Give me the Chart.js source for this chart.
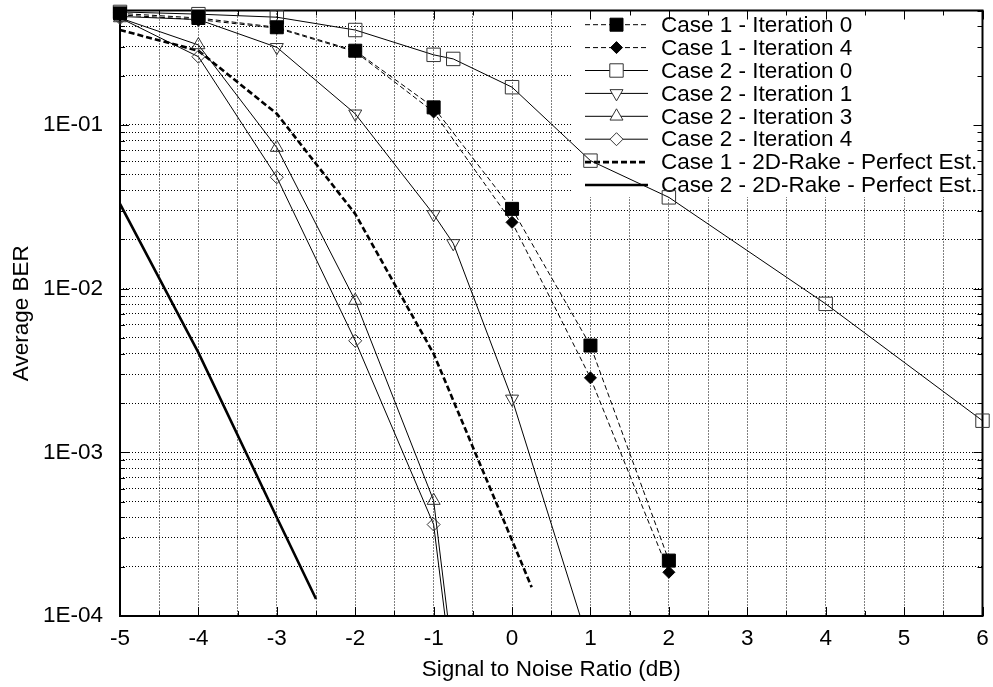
<!DOCTYPE html>
<html>
<head>
<meta charset="utf-8">
<script src="https://cdn.jsdelivr.net/npm/chart.js@4/dist/chart.umd.min.js"></script>
<style>
  html, body { margin: 0; padding: 0; background: #fff; }
  #wrap { width: 993px; height: 687px; }
</style>
</head>
<body>
<div id="wrap"><canvas id="ber" width="993" height="687"></canvas></div>
<script>
// SNR (dB) / BER values
const snrC1 = [-5, -4, -3, -2, -1, 0, 1, 2];
const berC1It0 = [0.48, 0.45, 0.395, 0.284, 0.128, 0.0307, 0.00449, 0.000218];
const berC1It4 = [0.47, 0.44, 0.39, 0.28, 0.12, 0.0254, 0.00285, 0.000185];

const snrC2It0 = [-5, -4, -3, -2, -1, -0.75, 0, 1, 2, 4, 6];
const berC2It0 = [0.49, 0.475, 0.455, 0.38, 0.268, 0.253, 0.17, 0.0605, 0.0361, 0.00807, 0.00156];

const snrC2It1 = [-5, -4, -3, -2, -1, -0.75, 0, 1];
const berC2It1 = [0.46, 0.44, 0.298, 0.117, 0.0284, 0.0189, 0.00212, 0.000063];

const snrC2It34 = [-5, -4, -3, -2, -1, -0.75];
const berC2It3 = [0.45, 0.308, 0.0727, 0.00845, 0.000507, 0.000052];
const berC2It4 = [0.45, 0.261, 0.0479, 0.0048, 0.000362, 0.000039];

const snrRake1 = [-5, -4, -3, -2, -1, 0, 0.25];
const berRake1 = [0.38, 0.284, 0.117, 0.0286, 0.004, 0.00029, 0.00015];

const snrRake2 = [-5, -4, -3, -2.5];
const berRake2 = [0.0329, 0.00406, 0.0004, 0.000127];

const seriesLabels = [
  'Case 1 - Iteration 0',
  'Case 1 - Iteration 4',
  'Case 2 - Iteration 0',
  'Case 2 - Iteration 1',
  'Case 2 - Iteration 3',
  'Case 2 - Iteration 4',
  'Case 1 - 2D-Rake - Perfect Est.',
  'Case 2 - 2D-Rake - Perfect Est.'
];

// y axis: decades get a label, 2..9 only grid lines
const yDecades = [1e-4, 1e-3, 1e-2, 1e-1];
const yMin = 1e-4, yMax = 0.5;
const xMin = -5, xMax = 6;

const FONT = '"Liberation Sans", Arial, Helvetica, sans-serif';
const FS = 22.5;

const pts = (xs, ys) => xs.map((x, i) => ({ x: x, y: ys[i] }));

function series(i, xs, ys, o) {
  return Object.assign({
    label: seriesLabels[i],
    data: pts(xs, ys),
    borderColor: '#000',
    borderWidth: 1,
    backgroundColor: 'rgba(0,0,0,0)',
    pointBorderColor: '#333',
    pointBorderWidth: 1,
    pointBackgroundColor: 'rgba(0,0,0,0)',
    tension: 0,
    clip: { left: 20, top: 20, right: 20, bottom: 0 }
  }, o);
}

const datasets = [
  series(0, snrC1, berC1It0, { borderDash: [5, 3], pointStyle: 'rect', pointRadius: 9.2,
    pointBackgroundColor: '#000', pointBorderColor: '#000', clip: false }),
  series(1, snrC1, berC1It4, { borderDash: [5, 3], pointStyle: 'rectRot', pointRadius: 6,
    pointBackgroundColor: '#000', pointBorderColor: '#000', clip: false }),
  series(2, snrC2It0, berC2It0, { pointStyle: 'rect', pointRadius: 9.5, clip: false }),
  series(3, snrC2It1, berC2It1, { pointStyle: 'triangle', pointRotation: 180, pointRadius: 7.5 }),
  series(4, snrC2It34, berC2It3, { pointStyle: 'triangle', pointRadius: 7.5 }),
  series(5, snrC2It34, berC2It4, { pointStyle: 'rectRot', pointRadius: 6.5 }),
  series(6, snrRake1, berRake1, { borderWidth: 2.6, borderDash: [6, 3], pointRadius: 0 }),
  series(7, snrRake2, berRake2, { borderWidth: 2.6, pointRadius: 0 })
];

function isDecade(v) {
  const l = Math.log10(v);
  return Math.abs(l - Math.round(l)) < 1e-9;
}

// gnuplot-like frame, inward ticks and opaque key box
const framePlugin = {
  id: 'frame',
  beforeDatasetsDraw(chart) {
    const ctx = chart.ctx;
    const a = chart.chartArea;
    const xs = chart.scales.x, ys = chart.scales.y;
    ctx.save();

    // key background
    ctx.fillStyle = '#fff';
    ctx.fillRect(573, a.top, a.right - 573, 197 - a.top);

    // ticks
    ctx.strokeStyle = '#000';
    ctx.lineWidth = 1;
    ctx.beginPath();
    xs.ticks.forEach(t => {
      const px = Math.round(xs.getPixelForValue(t.value)) + 0.5;
      const len = Number.isInteger(t.value) ? 9 : 5;
      ctx.moveTo(px, a.bottom); ctx.lineTo(px, a.bottom - len);
      ctx.moveTo(px, a.top); ctx.lineTo(px, a.top + len);
    });
    ys.ticks.forEach(t => {
      const py = Math.round(ys.getPixelForValue(t.value)) + 0.5;
      const len = isDecade(t.value) ? 9 : 5;
      ctx.moveTo(a.left, py); ctx.lineTo(a.left + len, py);
      ctx.moveTo(a.right, py); ctx.lineTo(a.right - len, py);
    });
    ctx.stroke();

    // border box
    ctx.lineWidth = 2;
    ctx.strokeRect(a.left, a.top, a.right - a.left, a.bottom - a.top);

    // key entries
    const rowY0 = 24.7, rowDy = 22.9;
    ctx.font = FS + 'px ' + FONT;
    ctx.textBaseline = 'middle';
    ctx.textAlign = 'left';
    chart.data.datasets.forEach((ds, i) => {
      const y = rowY0 + i * rowDy;
      ctx.save();
      ctx.strokeStyle = ds.borderColor;
      ctx.lineWidth = ds.borderWidth;
      ctx.setLineDash(ds.borderDash || []);
      ctx.beginPath();
      ctx.moveTo(585, y); ctx.lineTo(648, y);
      ctx.stroke();
      ctx.restore();
      if (ds.pointRadius > 0 && Chart.helpers && Chart.helpers.drawPoint) {
        ctx.save();
        ctx.fillStyle = ds.pointBackgroundColor === 'rgba(0,0,0,0)' ? '#fff' : ds.pointBackgroundColor;
        ctx.strokeStyle = ds.pointBorderColor;
        ctx.lineWidth = 1;
        Chart.helpers.drawPoint(ctx, {
          pointStyle: ds.pointStyle, radius: ds.pointRadius,
          rotation: ds.pointRotation || 0, borderWidth: 1
        }, 616.5, y);
        ctx.restore();
      }
      ctx.fillStyle = '#000';
      ctx.fillText(ds.label, 661, y + 1);
    });
    ctx.restore();
  }
};

new Chart(document.getElementById('ber'), {
  type: 'line',
  data: { datasets: datasets },
  plugins: [framePlugin],
  options: {
    responsive: false,
    devicePixelRatio: 1,
    animation: false,
    layout: { padding: { left: 0, top: 10, right: 6, bottom: 0 } },
    plugins: { legend: { display: false }, tooltip: { enabled: false } },
    scales: {
      x: {
        type: 'linear',
        min: xMin, max: xMax,
        grid: { color: '#000', lineWidth: 1, drawTicks: false },
        border: { display: false, dash: [1, 2] },
        ticks: {
          stepSize: 0.5, autoSkip: false, maxRotation: 0, padding: 9.5,
          color: '#000', font: { family: FONT, size: FS },
          callback: v => Number.isInteger(v) ? String(v) : ''
        },
        title: {
          display: true, text: 'Signal to Noise Ratio (dB)', color: '#000',
          font: { family: FONT, size: FS }, padding: { top: 0, bottom: 3.5 }
        },
        afterFit(scale) {
          scale.height = 71;
          scale.paddingLeft = 0; scale.paddingRight = 0;
        }
      },
      y: {
        type: 'logarithmic',
        min: yMin, max: yMax,
        grid: { color: '#000', lineWidth: 1, drawTicks: false },
        border: { display: false, dash: [1, 2] },
        afterBuildTicks(scale) {
          const ticks = [];
          yDecades.forEach(d => {
            for (let m = 1; m <= 9; m++) {
              const v = +(m * d).toPrecision(6);
              if (v <= yMax + 1e-12) ticks.push({ value: v });
            }
          });
          scale.ticks = ticks;
        },
        ticks: {
          autoSkip: false, padding: 17,
          color: '#000', font: { family: FONT, size: FS },
          callback: v => isDecade(v) ? '1E-' + String(-Math.round(Math.log10(v))).padStart(2, '0') : ''
        },
        title: {
          display: true, text: 'Average BER', color: '#000',
          font: { family: FONT, size: FS }, padding: { top: 8.5, bottom: 0 }
        },
        afterFit(scale) {
          scale.width = 120;
          scale.paddingTop = 0; scale.paddingBottom = 0;
        }
      }
    }
  }
});
</script>
</body>
</html>
